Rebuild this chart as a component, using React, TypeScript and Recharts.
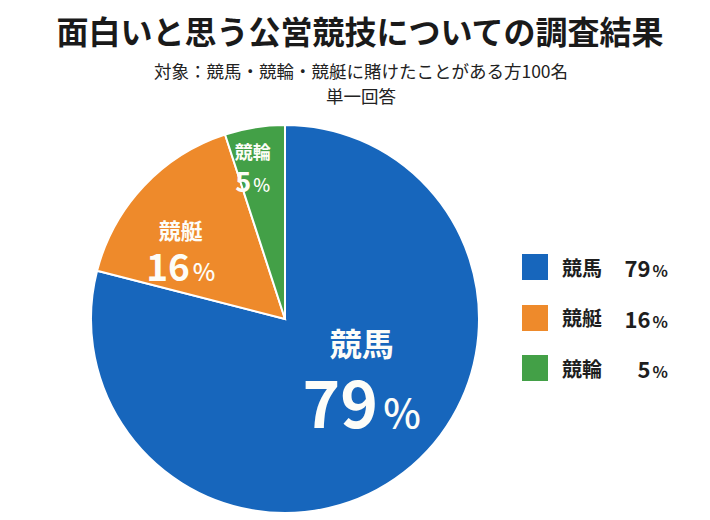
import { PieChart, Pie, Cell, Legend } from "recharts";

const TITLE = "面白いと思う公営競技についての調査結果";
const SUBTITLE = "対象：競馬・競輪・競艇に賭けたことがある方100名";
const SUBTITLE2 = "単一回答";

const CATEGORIES = ["競馬", "競艇", "競輪"];
const VALUES = [79, 16, 5];
const COLORS = ["#1766BC", "#EE8A2B", "#43A047"];

// label placement inside each slice (angle shift from mid-angle, radius, font sizes)
const LABEL_SHIFT = [16, 9, 3];
const LABEL_RADIUS = [95, 126, 155];
const NAME_SIZE = [32, 22, 18];
const NUM_SIZE = [64, 37, 27];
const PCT_SIZE = [40, 24, 18];
const NAME_DY = [-33, -19, -16];
const NUM_DY = [53, 33, 25];

const FONT = '"Noto Sans CJK JP", "Noto Sans", sans-serif';
const RAD = Math.PI / 180;

const data = CATEGORIES.map((name, i) => ({ name, value: VALUES[i] }));

const SliceLabel = (props: any) => {
  const { cx, cy, midAngle, index, value, name } = props;
  const a = (midAngle + LABEL_SHIFT[index]) * RAD;
  const x = cx + LABEL_RADIUS[index] * Math.cos(a);
  const y = cy - LABEL_RADIUS[index] * Math.sin(a);
  // name baseline: shift the centre line down by the font's central offset
  const nameY = y + NAME_DY[index] + NAME_SIZE[index] * 0.436;
  return (
    <text x={x} y={nameY} textAnchor="middle" fontFamily={FONT} fontWeight={700} fill="#fdfdf8">
      <tspan x={x} y={nameY} fontSize={NAME_SIZE[index]}>
        {name}
      </tspan>
      <tspan x={x} y={y + NUM_DY[index]} fontSize={NUM_SIZE[index]}>
        {value}
        <tspan fontSize={PCT_SIZE[index]} fontWeight={500} dx={NUM_SIZE[index] * 0.08}>
          %
        </tspan>
      </tspan>
    </text>
  );
};

const renderLegend = () => (
  <div style={{ fontFamily: FONT, color: "#1e1e1e" }}>
    {data.map((d, i) => (
      <div
        key={d.name}
        style={{ display: "flex", alignItems: "center", height: 50.5, width: 146 }}
      >
        <div style={{ width: 26, height: 26, background: COLORS[i], flexShrink: 0 }} />
        <span style={{ marginLeft: 14, fontSize: 20, fontWeight: 700 }}>{d.name}</span>
        <span style={{ marginLeft: "auto", fontWeight: 700 }}>
          <span style={{ fontSize: 22 }}>{d.value}</span>
          <span style={{ fontSize: 16, marginLeft: 2 }}>%</span>
        </span>
      </div>
    ))}
  </div>
);

export default function App() {
  return (
    <div
      style={{
        position: "absolute",
        left: 0,
        top: 0,
        width: 710,
        height: 520,
        background: "#fff",
        fontFamily: FONT,
      }}
    >
      <div
        style={{
          position: "absolute",
          left: 5,
          top: 9,
          width: 710,
          textAlign: "center",
          fontSize: 32,
          fontWeight: 700,
          color: "#1a1a1a",
          lineHeight: "42px",
        }}
      >
        {TITLE}
      </div>
      <div
        style={{
          position: "absolute",
          left: 6,
          top: 58,
          width: 710,
          textAlign: "center",
          fontSize: 17.5,
          color: "#222",
          lineHeight: "25px",
        }}
      >
        {SUBTITLE}
        <br />
        {SUBTITLE2}
      </div>
      <div style={{ position: "absolute", left: 0, top: 0 }}>
        <PieChart width={710} height={520} margin={{ top: 0, right: 0, bottom: 0, left: 0 }}>
          <Pie
            data={data}
            dataKey="value"
            nameKey="name"
            cx={285}
            cy={319}
            outerRadius={194}
            startAngle={90}
            endAngle={-270}
            stroke="#ffffff"
            strokeWidth={2}
            label={SliceLabel}
            labelLine={false}
            isAnimationActive={false}
          >
            {data.map((d, i) => (
              <Cell key={d.name} fill={COLORS[i]} />
            ))}
          </Pie>
          <Legend
            content={renderLegend}
            wrapperStyle={{ left: 522, top: 242, width: 146 }}
          />
        </PieChart>
      </div>
    </div>
  );
}
